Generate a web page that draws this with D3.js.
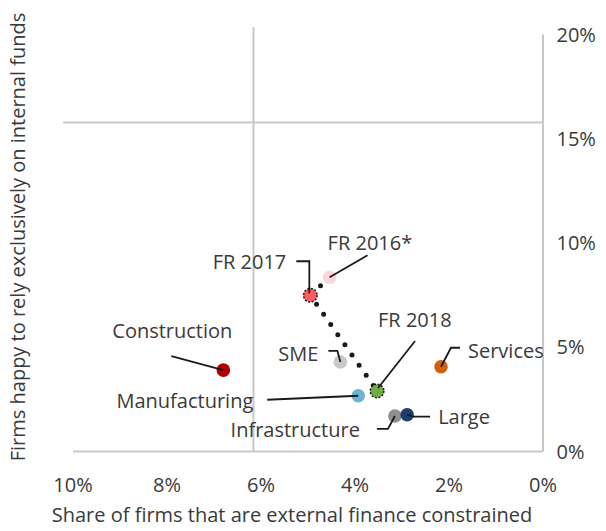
<!DOCTYPE html>
<html>
<head>
<meta charset="utf-8">
<script src="https://cdn.jsdelivr.net/npm/d3@7"></script>
<style>
  html, body { margin: 0; padding: 0; background: #ffffff; }
  svg { display: block; font-family: "Open Sans", "Noto Sans", sans-serif; }
</style>
</head>
<body>
<svg id="chart" width="606" height="531"></svg>
<script>
// ---- data ----
const names = ["FR 2016*", "FR 2017", "FR 2018", "SME", "Services", "Manufacturing", "Construction", "Infrastructure", "Large"];
const constrained = [4.53, 4.94, 3.52, 4.30, 2.16, 3.92, 6.79, 3.14, 2.88];   // x, %
const internalFunds = [8.33, 7.47, 2.88, 4.27, 4.04, 2.65, 3.88, 1.68, 1.74]; // y, %
const colors = ["#f9d8dc", "#ff5b63", "#70ad47", "#c9c9c9", "#d0600e", "#6db4d4", "#b00000", "#8f8f8f", "#1f3f6b"];
const dashedOutline = [false, true, true, false, false, false, false, false, false];
const frPath = ["FR 2016*", "FR 2017", "FR 2018"];
const xTicks = [10, 8, 6, 4, 2, 0];
const yTicks = [0, 5, 10, 15, 20];
const avgConstrained = 6.15;   // vertical reference line
const avgInternal = 15.75;     // horizontal reference line
const xTitle = "Share of firms that are external finance constrained";
const yTitle = "Firms happy to rely exclusively on internal funds";

// label placement (pixel offsets from the marker): leader polyline, text anchor
const labelLayout = {
  "FR 2016*":      { lead: [[0,0],[38,-22]],            dx: -2,   dy: -27, anchor: "start" },
  "FR 2017":       { lead: [[-1,-2],[-1,-34],[-14,-34]], dx: -24,  dy: -26, anchor: "end" },
  "FR 2018":       { lead: [[1,-3],[38,-50]],           dx: 1,    dy: -64, anchor: "start" },
  "SME":           { lead: [[0,0],[-3,-11],[-12,-11]],  dx: -22,  dy: -1,  anchor: "end" },
  "Services":      { lead: [[0,0],[10,-19],[19,-19]],   dx: 27,   dy: -9,  anchor: "start" },
  "Manufacturing": { lead: [[0,0],[-91,4]],             dx: -105, dy: 12,  anchor: "end" },
  "Construction":  { lead: [[0,0],[-52,-14]],           dx: 9,    dy: -32, anchor: "end" },
  "Infrastructure":{ lead: [[0,0],[-7,13],[-18,13]],    dx: -35,  dy: 21,  anchor: "end" },
  "Large":         { lead: [[0,0],[6,2],[23,2]],        dx: 31,   dy: 9,   anchor: "start" }
};

// ---- scales ----
const svg = d3.select("#chart");
const x = d3.scaleLinear().domain([10, 0]).range([72.5, 542.5]);
const y = d3.scaleLinear().domain([0, 20]).range([451, 34]);
const grid = "#c8c8c8";
const textColor = "#3a3a3a";
const fs = 20;

// reference lines
svg.append("line")
  .attr("x1", x(avgConstrained)).attr("x2", x(avgConstrained))
  .attr("y1", y(0)).attr("y2", y(20.32))
  .attr("stroke", grid).attr("stroke-width", 2);
svg.append("line")
  .attr("x1", x(10.2)).attr("x2", x(0))
  .attr("y1", y(avgInternal)).attr("y2", y(avgInternal))
  .attr("stroke", grid).attr("stroke-width", 2);

// axes
const xAxis = svg.append("g").attr("transform", `translate(0,${y(0)})`)
  .call(d3.axisBottom(x).tickValues(xTicks).tickSize(0).tickFormat(d => d + "%"));
xAxis.select(".domain").attr("stroke", grid).attr("stroke-width", 2);
xAxis.selectAll("text").attr("fill", textColor).attr("font-size", fs)
  .attr("font-family", "Open Sans").attr("dy", 0).attr("y", 41);

const yAxis = svg.append("g").attr("transform", `translate(${x(0)},0)`)
  .call(d3.axisRight(y).tickValues(yTicks).tickSize(0).tickFormat(d => d + "%"));
yAxis.select(".domain").attr("stroke", grid).attr("stroke-width", 2);
yAxis.selectAll("text").attr("fill", textColor).attr("font-size", fs)
  .attr("font-family", "Open Sans").attr("x", 14).attr("dy", "0.35em");

// axis titles
svg.append("text").attr("x", 292).attr("y", 522)
  .attr("text-anchor", "middle").attr("fill", textColor).attr("font-size", fs)
  .text(xTitle);
svg.append("text").attr("transform", "translate(25,237) rotate(-90)")
  .attr("text-anchor", "middle").attr("fill", textColor).attr("font-size", fs)
  .text(yTitle);

// data rows
const rows = names.map((n, i) => ({ name: n, cx: constrained[i], cy: internalFunds[i], color: colors[i], dashed: dashedOutline[i] }));
const byName = Object.fromEntries(rows.map(r => [r.name, r]));

// dotted FR trajectory
svg.append("path")
  .datum(frPath.map(n => byName[n]))
  .attr("d", d3.line().x(d => x(d.cx)).y(d => y(d.cy)))
  .attr("fill", "none").attr("stroke", "#1a1a1a").attr("stroke-width", 5)
  .attr("stroke-linecap", "round").attr("stroke-dasharray", "0 12.4");

// markers
svg.append("g").selectAll("circle").data(rows).join("circle")
  .attr("cx", d => x(d.cx)).attr("cy", d => y(d.cy)).attr("r", 6.8)
  .attr("fill", d => d.color)
  .attr("stroke", d => d.dashed ? "#1a1a1a" : "none")
  .attr("stroke-width", 1.5)
  .attr("stroke-dasharray", d => d.dashed ? "2 1.6" : null);

// leader lines and labels
const lg = svg.append("g");
rows.forEach(d => {
  const L = labelLayout[d.name];
  const px = x(d.cx), py = y(d.cy);
  lg.append("polyline")
    .attr("points", L.lead.map(p => (px + p[0]) + "," + (py + p[1])).join(" "))
    .attr("fill", "none").attr("stroke", "#1a1a1a").attr("stroke-width", 1.8);
  lg.append("text")
    .attr("x", px + L.dx).attr("y", py + L.dy)
    .attr("text-anchor", L.anchor).attr("fill", textColor).attr("font-size", fs)
    .text(d.name);
});
</script>
</body>
</html>
